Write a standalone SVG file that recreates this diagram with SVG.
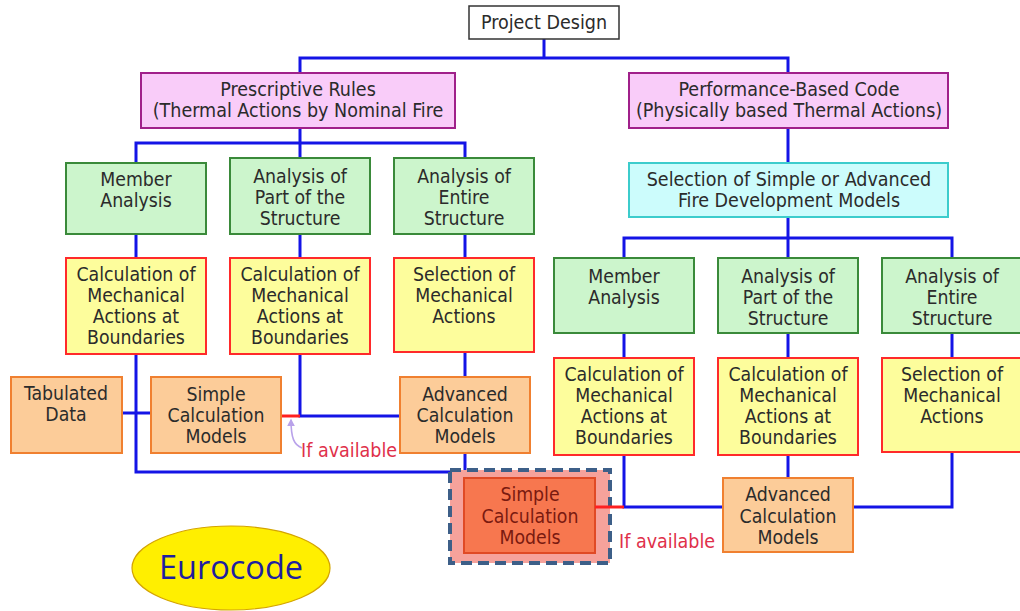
<svg xmlns="http://www.w3.org/2000/svg" width="1020" height="611" viewBox="0 0 1020 611">
  <defs>
    <marker id="arrow-lilac" viewBox="0 0 10 10" refX="8" refY="5" markerWidth="8" markerHeight="8" orient="auto" markerUnits="userSpaceOnUse">
      <path d="M0,0 L10,5 L0,10 Z" fill="#b9a2ea"/>
    </marker>
    <style>
      .lbl { font-family: "DejaVu Sans Condensed", "DejaVu Sans", Verdana, sans-serif; font-size: 19.3px; fill: #2b2b2b; text-anchor: middle; }
      .big { font-size: 19.5px; }
      .plain { fill: #ffffff; stroke: #333333; stroke-width: 1.5; }
      .pink { fill: #f9ccf9; stroke: #a0208a; stroke-width: 2; }
      .cyan { fill: #ccfcfc; stroke: #3ccccc; stroke-width: 2; }
      .green { fill: #ccf5cc; stroke: #3a8a3a; stroke-width: 2; }
      .yellow { fill: #fdfd9c; stroke: #ff2a2a; stroke-width: 2; }
      .orange { fill: #fccc99; stroke: #f08030; stroke-width: 2; }
      .hot { fill: #f7774f; stroke: #e04a25; stroke-width: 2; }
      .hot-text { fill: #7a1a10; }
      .halo { fill: #f6a29b; stroke: #3d5f88; stroke-width: 4; stroke-dasharray: 11 6; }
      .wire { fill: none; stroke: #1414e6; stroke-width: 3; }
      .wire-red { fill: none; stroke: #ff2020; stroke-width: 3; }
      .note { font-family: "DejaVu Sans Condensed", "DejaVu Sans", Verdana, sans-serif; font-size: 19.5px; fill: #e0304a; }
    </style>
  </defs>

  <rect width="1020" height="611" fill="#ffffff"/>

  <!-- connectors -->
  <g id="connectors">
    <!-- top level -->
    <polyline class="wire" points="544,39 544,58"/>
    <polyline class="wire" points="300,73 300,58 788,58 788,73"/>
    <!-- prescriptive branch -->
    <polyline class="wire" points="300,128 300,143"/>
    <polyline class="wire" points="136,163 136,143 465,143 465,158"/>
    <polyline class="wire" points="300,143 300,158"/>
    <polyline class="wire" points="136,234 136,258"/>
    <polyline class="wire" points="300,234 300,258"/>
    <polyline class="wire" points="465,234 465,258"/>
    <polyline class="wire" points="136,354 136,472 465,472 465,453"/>
    <polyline class="wire" points="122,413 151,413"/>
    <polyline class="wire" points="300,354 300,416 400,416"/>
    <polyline class="wire-red" points="281,416 300,416"/>
    <polyline class="wire" points="465,352 465,377"/>
    <!-- performance branch -->
    <polyline class="wire" points="788,128 788,163"/>
    <polyline class="wire" points="788,217 788,258"/>
    <polyline class="wire" points="624,258 624,238 952,238 952,258"/>
    <polyline class="wire" points="624,333 624,358"/>
    <polyline class="wire" points="788,333 788,358"/>
    <polyline class="wire" points="952,333 952,358"/>
    <polyline class="wire" points="624,455 624,507 723,507"/>
    <polyline class="wire" points="788,455 788,478"/>
    <polyline class="wire" points="853,507 952,507 952,452"/>
    <!-- optional link to the simple models -->
    <path d="M302,448 C294,445 291,438 291,420" fill="none" stroke="#b9a2ea" stroke-width="1.6" marker-end="url(#arrow-lilac)"/>
  </g>

  <g id="project-design">
    <rect class="plain" x="469" y="6" width="150" height="33"/>
    <text class="lbl big" x="544" y="29">Project Design</text>
  </g>

  <g id="prescriptive-rules">
    <rect class="pink" x="141" y="73" width="314" height="55"/>
    <text class="lbl big" x="298" y="96">Prescriptive Rules</text>
    <text class="lbl big" x="298" y="117">(Thermal Actions by Nominal Fire</text>
  </g>

  <g id="performance-code">
    <rect class="pink" x="629" y="73" width="319" height="55"/>
    <text class="lbl big" x="789" y="96">Performance-Based Code</text>
    <text class="lbl big" x="789" y="117">(Physically based Thermal Actions)</text>
  </g>

  <g id="fire-models">
    <rect class="cyan" x="629" y="163" width="319" height="54"/>
    <text class="lbl big" x="789" y="186">Selection of Simple or Advanced</text>
    <text class="lbl big" x="789" y="207">Fire Development Models</text>
  </g>

  <!-- prescriptive side -->
  <g id="p-member">
    <rect class="green" x="66" y="163" width="140" height="71"/>
    <text class="lbl" x="136" y="186">Member</text>
    <text class="lbl" x="136" y="207">Analysis</text>
  </g>
  <g id="p-part">
    <rect class="green" x="230" y="158" width="140" height="76"/>
    <text class="lbl" x="300" y="183">Analysis of</text>
    <text class="lbl" x="300" y="204">Part of the</text>
    <text class="lbl" x="300" y="225">Structure</text>
  </g>
  <g id="p-entire">
    <rect class="green" x="394" y="158" width="140" height="76"/>
    <text class="lbl" x="464" y="183">Analysis of</text>
    <text class="lbl" x="464" y="204">Entire</text>
    <text class="lbl" x="464" y="225">Structure</text>
  </g>
  <g id="p-member-actions">
    <rect class="yellow" x="66" y="258" width="140" height="96"/>
    <text class="lbl" x="136" y="281">Calculation of</text>
    <text class="lbl" x="136" y="302">Mechanical</text>
    <text class="lbl" x="136" y="323">Actions at</text>
    <text class="lbl" x="136" y="344">Boundaries</text>
  </g>
  <g id="p-part-actions">
    <rect class="yellow" x="230" y="258" width="140" height="96"/>
    <text class="lbl" x="300" y="281">Calculation of</text>
    <text class="lbl" x="300" y="302">Mechanical</text>
    <text class="lbl" x="300" y="323">Actions at</text>
    <text class="lbl" x="300" y="344">Boundaries</text>
  </g>
  <g id="p-entire-actions">
    <rect class="yellow" x="394" y="258" width="140" height="94"/>
    <text class="lbl" x="464" y="281">Selection of</text>
    <text class="lbl" x="464" y="302">Mechanical</text>
    <text class="lbl" x="464" y="323">Actions</text>
  </g>
  <g id="p-tabulated">
    <rect class="orange" x="11" y="377" width="111" height="76"/>
    <text class="lbl" x="66" y="400">Tabulated</text>
    <text class="lbl" x="66" y="421">Data</text>
  </g>
  <g id="p-simple">
    <rect class="orange" x="151" y="377" width="130" height="76"/>
    <text class="lbl" x="216" y="401">Simple</text>
    <text class="lbl" x="216" y="422">Calculation</text>
    <text class="lbl" x="216" y="443">Models</text>
  </g>
  <g id="p-advanced">
    <rect class="orange" x="400" y="377" width="130" height="76"/>
    <text class="lbl" x="465" y="401">Advanced</text>
    <text class="lbl" x="465" y="422">Calculation</text>
    <text class="lbl" x="465" y="443">Models</text>
  </g>
  <text class="note" x="301" y="457">If available</text>

  <!-- performance side -->
  <g id="b-member">
    <rect class="green" x="554" y="258" width="140" height="75"/>
    <text class="lbl" x="624" y="283">Member</text>
    <text class="lbl" x="624" y="304">Analysis</text>
  </g>
  <g id="b-part">
    <rect class="green" x="718" y="258" width="140" height="75"/>
    <text class="lbl" x="788" y="283">Analysis of</text>
    <text class="lbl" x="788" y="304">Part of the</text>
    <text class="lbl" x="788" y="325">Structure</text>
  </g>
  <g id="b-entire">
    <rect class="green" x="882" y="258" width="140" height="75"/>
    <text class="lbl" x="952" y="283">Analysis of</text>
    <text class="lbl" x="952" y="304">Entire</text>
    <text class="lbl" x="952" y="325">Structure</text>
  </g>
  <g id="b-member-actions">
    <rect class="yellow" x="554" y="358" width="140" height="97"/>
    <text class="lbl" x="624" y="381">Calculation of</text>
    <text class="lbl" x="624" y="402">Mechanical</text>
    <text class="lbl" x="624" y="423">Actions at</text>
    <text class="lbl" x="624" y="444">Boundaries</text>
  </g>
  <g id="b-part-actions">
    <rect class="yellow" x="718" y="358" width="140" height="97"/>
    <text class="lbl" x="788" y="381">Calculation of</text>
    <text class="lbl" x="788" y="402">Mechanical</text>
    <text class="lbl" x="788" y="423">Actions at</text>
    <text class="lbl" x="788" y="444">Boundaries</text>
  </g>
  <g id="b-entire-actions">
    <rect class="yellow" x="882" y="358" width="140" height="94"/>
    <text class="lbl" x="952" y="381">Selection of</text>
    <text class="lbl" x="952" y="402">Mechanical</text>
    <text class="lbl" x="952" y="423">Actions</text>
  </g>
  <g id="b-simple">
    <rect class="halo" x="450" y="470" width="160" height="93"/>
    <rect class="hot" x="464" y="478" width="131" height="75"/>
    <polyline class="wire-red" points="595,507 624,507"/>
    <text class="lbl hot-text" x="530" y="501">Simple</text>
    <text class="lbl hot-text" x="530" y="523">Calculation</text>
    <text class="lbl hot-text" x="530" y="544">Models</text>
  </g>
  <g id="b-advanced">
    <rect class="orange" x="723" y="478" width="130" height="74"/>
    <text class="lbl" x="788" y="501">Advanced</text>
    <text class="lbl" x="788" y="523">Calculation</text>
    <text class="lbl" x="788" y="544">Models</text>
  </g>
  <text class="note" x="619" y="548">If available</text>

  <g id="eurocode">
    <ellipse cx="231" cy="568" rx="99" ry="42" fill="#ffef00" stroke="#d4a400" stroke-width="1.2"/>
    <text x="231" y="579" text-anchor="middle" font-family="'Open Sans', 'Noto Sans', sans-serif" font-size="32.5" fill="#1f1fa0">Eurocode</text>
  </g>
</svg>
